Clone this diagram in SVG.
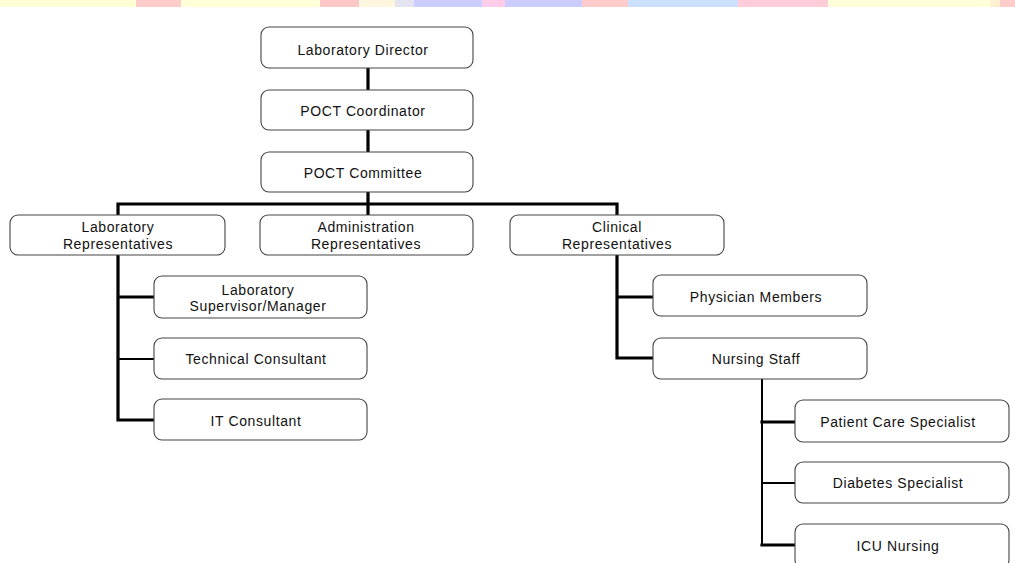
<svg xmlns="http://www.w3.org/2000/svg" width="1015" height="563" viewBox="0 0 1015 563">
<style>
.box{fill:#fff;stroke:#444;stroke-width:1.1}
.t{font-family:"Liberation Sans",Arial,sans-serif;font-size:14px;letter-spacing:0.6px;fill:#111;text-anchor:middle}
.c{fill:none;stroke:#000;stroke-width:3.2;stroke-linecap:square}
.c2{fill:none;stroke:#000;stroke-width:2;stroke-linecap:square}
</style>
<rect width="1015" height="563" fill="#fff"/>
<g id="stripe">
<rect x="0" y="0" width="136" height="7" fill="#ffffd6"/>
<rect x="136" y="0" width="45" height="7" fill="#ffcccc"/>
<rect x="181" y="0" width="139" height="7" fill="#ffffd8"/>
<rect x="320" y="0" width="39" height="7" fill="#ffc8c8"/>
<rect x="359" y="0" width="36" height="7" fill="#fff6e0"/>
<rect x="395" y="0" width="19" height="7" fill="#e4e4f0"/>
<rect x="414" y="0" width="68" height="7" fill="#ccccff"/>
<rect x="482" y="0" width="23" height="7" fill="#ffccea"/>
<rect x="505" y="0" width="77" height="7" fill="#ccccff"/>
<rect x="582" y="0" width="46" height="7" fill="#ffcccc"/>
<rect x="628" y="0" width="110" height="7" fill="#cce0ff"/>
<rect x="738" y="0" width="90" height="7" fill="#ffccd8"/>
<rect x="828" y="0" width="162" height="7" fill="#ffffda"/>
<rect x="990" y="0" width="10" height="7" fill="#fff0d0"/>
<rect x="1000" y="0" width="15" height="7" fill="#ffcccc"/>
</g>
<g id="connectors">
<path class="c" d="M368 68 V90 M368 130 V152 M368 192 V215"/>
<path class="c" d="M118 215 V204 H617 V215"/>
<path class="c" d="M118 255 V420 H154 M118 297 H154"/>
<path class="c2" d="M118 359 H154"/>
<path class="c" d="M617 255 V358 H653 M617 297 H653"/>
<path class="c2" d="M762 379 V545"/>
<path class="c" d="M762 545 H795 M762 422 H795"/>
<path class="c2" d="M762 483 H795"/>
</g>
<g id="lab-director"><rect class="box" x="261" y="27" width="212" height="41" rx="8"/><text class="t" x="363" y="55">Laboratory Director</text></g>
<g id="poct-coordinator"><rect class="box" x="261" y="90" width="212" height="40" rx="8"/><text class="t" x="363" y="116">POCT Coordinator</text></g>
<g id="poct-committee"><rect class="box" x="261" y="152" width="212" height="40" rx="8"/><text class="t" x="363" y="178">POCT Committee</text></g>
<g id="lab-reps"><rect class="box" x="10" y="215" width="215" height="40" rx="8"/><text class="t" x="118" y="232">Laboratory</text><text class="t" x="118" y="249">Representatives</text></g>
<g id="admin-reps"><rect class="box" x="260" y="215" width="213" height="40" rx="8"/><text class="t" x="366" y="232">Administration</text><text class="t" x="366" y="249">Representatives</text></g>
<g id="clinical-reps"><rect class="box" x="510" y="215" width="214" height="40" rx="8"/><text class="t" x="617" y="232">Clinical</text><text class="t" x="617" y="249">Representatives</text></g>
<g id="lab-supervisor"><rect class="box" x="154" y="276" width="213" height="42" rx="8"/><text class="t" x="258" y="295">Laboratory</text><text class="t" x="258" y="311">Supervisor/Manager</text></g>
<g id="technical-consultant"><rect class="box" x="154" y="338" width="213" height="41" rx="8"/><text class="t" x="256" y="364">Technical Consultant</text></g>
<g id="it-consultant"><rect class="box" x="154" y="399" width="213" height="41" rx="8"/><text class="t" x="256" y="426">IT Consultant</text></g>
<g id="physician-members"><rect class="box" x="653" y="275" width="214" height="41" rx="8"/><text class="t" x="756" y="302">Physician Members</text></g>
<g id="nursing-staff"><rect class="box" x="653" y="338" width="214" height="41" rx="8"/><text class="t" x="756" y="364">Nursing Staff</text></g>
<g id="patient-care"><rect class="box" x="795" y="400" width="214" height="42" rx="8"/><text class="t" x="898" y="427">Patient Care Specialist</text></g>
<g id="diabetes"><rect class="box" x="795" y="462" width="214" height="41" rx="8"/><text class="t" x="898" y="488">Diabetes Specialist</text></g>
<g id="icu"><rect class="box" x="795" y="524" width="214" height="44" rx="8"/><text class="t" x="898" y="551">ICU Nursing</text></g>
</svg>
